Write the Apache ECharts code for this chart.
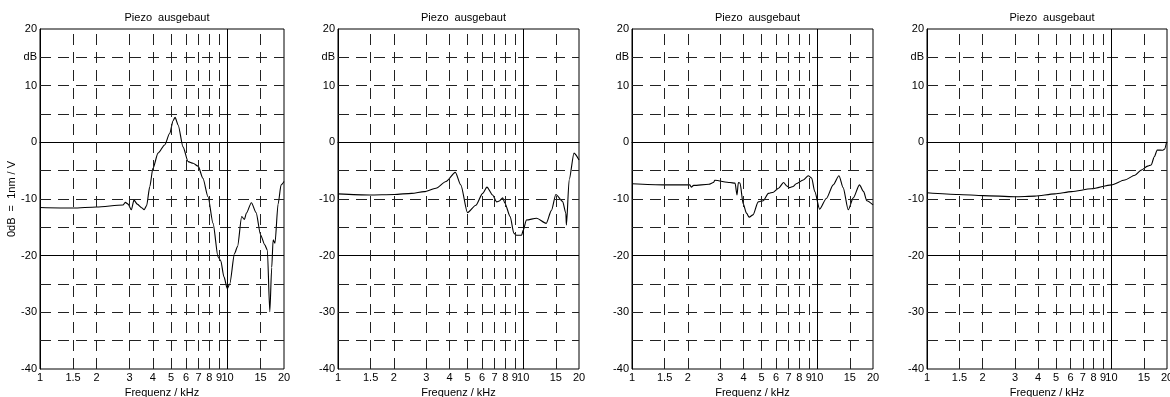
<!DOCTYPE html>
<html>
<head>
<meta charset="utf-8">
<script src="https://cdn.jsdelivr.net/npm/echarts@6/dist/echarts.min.js"></script>
<style>
html,body{margin:0;padding:0;background:#fff;}
#chart{width:1170px;height:397px;}
</style>
</head>
<body>
<div id="chart"></div>
<script>
// ---- data (frequency in kHz, level in dB) ----
const panelTitle = 'Piezo  ausgebaut';
const xAxisTitle = 'Frequenz / kHz';
const yAxisTitle = '0dB  =  1nm / V';
const xTickValues = [1, 1.5, 2, 3, 4, 5, 6, 7, 8, 9, 10, 15, 20];
const yTickValues = [-40, -30, -20, -10, 0, 10, 15, 20];
const yDashedGrid = [15, 10, 5, -5, -10, -15, -25, -30, -35];
const ySolidGrid = [0, -20];
const xDashedGrid = [1.5, 2, 3, 4, 5, 6, 7, 8, 9, 15];
const xSolidGrid = [10];

const freq1 = [1, 1.5, 2.0, 2.77, 2.85, 2.95, 3.07, 3.17, 3.3, 3.5, 3.59, 3.7, 3.85, 4.0, 4.26, 4.62, 4.92, 5.12, 5.25, 5.45, 5.79, 6.16, 6.55, 6.97, 7.39, 7.87, 8.37, 8.9, 9.2, 9.56, 9.97, 10.27, 10.9, 11.3, 11.9, 12.3, 12.6, 13.4, 14.2, 15.0, 15.8, 16.3, 16.8, 17.2, 17.5, 17.9, 18.6, 19.3, 20];
const level1 = [-11.5, -11.6, -11.4, -11.06, -10.6, -10.9, -11.9, -10.2, -10.9, -11.6, -11.9, -11.2, -7.8, -4.6, -1.9, -0.47, 1.6, 3.8, 4.4, 3.06, -0.8, -3.4, -3.7, -4.2, -6.35, -9.6, -14.3, -20.2, -20.9, -23.7, -25.8, -25.0, -19.6, -18.4, -13.1, -13.6, -12.5, -10.65, -12.4, -16.35, -18.1, -19.0, -29.9, -22.1, -17.2, -17.8, -10.9, -7.5, -6.9];

const freq2 = [1, 1.48, 2.01, 2.5, 2.92, 3.38, 3.83, 4.3, 4.6, 5.0, 5.55, 6.04, 6.37, 6.83, 7.19, 7.43, 7.75, 7.95, 8.5, 8.9, 9.2, 9.8, 10.0, 10.4, 11.8, 13.3, 14.2, 15.0, 16.3, 16.98, 17.1, 17.7, 18.8, 20];
const level2 = [-9.1, -9.3, -9.2, -9.0, -8.7, -8.1, -6.9, -5.3, -7.5, -12.4, -11.1, -9.0, -7.9, -9.3, -10.5, -10.35, -9.8, -10.7, -13.1, -16.05, -16.4, -16.4, -15.5, -13.7, -13.4, -14.3, -12.0, -9.2, -10.4, -12.5, -14.6, -6.6, -1.9, -3.1];

const freq3 = [1, 1.48, 2.05, 2.09, 2.15, 2.6, 2.75, 2.8, 3.38, 3.6, 3.69, 3.75, 3.83, 3.98, 4.15, 4.29, 4.5, 4.8, 5.11, 5.45, 5.8, 6.18, 6.58, 6.85, 7.09, 7.4, 7.7, 8.4, 8.95, 9.33, 9.7, 10.3, 11.2, 12.2, 13.1, 13.8, 14.7, 15.65, 16.9, 17.8, 18.5, 20];
const level3 = [-7.3, -7.5, -7.5, -7.9, -7.6, -7.4, -7.1, -6.7, -7.1, -7.2, -9.3, -7.1, -7.2, -10.8, -12.5, -13.2, -12.8, -10.5, -10.3, -9.0, -8.8, -8.1, -7.1, -7.7, -8.0, -7.8, -7.3, -6.65, -5.9, -6.3, -8.7, -11.8, -9.9, -7.5, -5.9, -8.0, -11.9, -9.8, -7.5, -8.7, -10.3, -11.05];

const freq4 = [1, 1.48, 2.02, 3.0, 3.84, 4.93, 6.07, 7.8, 10.0, 11.8, 13.4, 14.5, 15.7, 16.4, 17.1, 17.7, 19.0, 19.4, 19.9];
const level4 = [-8.9, -9.2, -9.4, -9.6, -9.5, -9.1, -8.7, -8.2, -7.5, -6.65, -5.8, -4.9, -4.2, -4.0, -2.5, -1.35, -1.4, -1.2, 0.1];

const panels = [
  {f: freq1, v: level1},
  {f: freq2, v: level2},
  {f: freq3, v: level3},
  {f: freq4, v: level4}
];

// ---- layout ----
const gridBoxes = [
  {left: 40, width: 244},
  {left: 338, width: 241},
  {left: 632, width: 241},
  {left: 927, width: 240}
];
const gridTop = 29, gridHeight = 340;
const FONT = 'Liberation Sans, Arial, Helvetica, sans-serif';

const chart = echarts.init(document.getElementById('chart'));

const grids = [], xAxes = [], yAxes = [], series = [], titles = [];
const dashStyle = {color: '#222', width: 1, type: [11, 7]};
const solidStyle = {color: '#000', width: 1, type: 'solid'};

panels.forEach((p, i) => {
  const g = gridBoxes[i];
  grids.push({left: g.left, width: g.width, top: gridTop, height: gridHeight,
    outerBoundsMode: 'none', containLabel: false,
    show: true, borderColor: '#000', borderWidth: 1, backgroundColor: '#fff'});
  titles.push({text: panelTitle, left: g.left + g.width / 2, top: 7, textAlign: 'center',
    textStyle: {fontFamily: FONT, fontSize: 11, fontWeight: 'normal', color: '#000'}});
  xAxes.push({type: 'log', logBase: 10, min: 1, max: 20, gridIndex: i,
    name: xAxisTitle, nameLocation: 'middle', nameGap: 13,
    nameTextStyle: {fontFamily: FONT, fontSize: 11, color: '#000'},
    axisLine: {show: true, lineStyle: {color: '#000'}},
    axisTick: {show: false},
    splitLine: {show: false}, minorSplitLine: {show: false},
    axisLabel: {customValues: xTickValues, fontFamily: FONT, fontSize: 11, color: '#000', margin: 3,
      hideOverlap: false, showMinLabel: true, showMaxLabel: true,
      formatter: v => String(Math.round(v * 10) / 10)}});
  yAxes.push({type: 'value', min: -40, max: 20, interval: 10, gridIndex: i,
    name: i === 0 ? yAxisTitle : '', nameLocation: 'middle', nameGap: 22,
    nameTextStyle: {fontFamily: FONT, fontSize: 11, color: '#000'},
    axisLine: {show: true, lineStyle: {color: '#000'}},
    axisTick: {show: false},
    splitLine: {show: false},
    axisLabel: {customValues: yTickValues, fontFamily: FONT, fontSize: 11, color: '#000', margin: 3,
      formatter: v => (v === 15 ? 'dB' : String(v))}});
  const mlData = [];
  yDashedGrid.forEach(y => mlData.push({yAxis: y, lineStyle: dashStyle}));
  ySolidGrid.forEach(y => mlData.push({yAxis: y, lineStyle: solidStyle}));
  xDashedGrid.forEach(x => mlData.push({xAxis: x, lineStyle: dashStyle}));
  xSolidGrid.forEach(x => mlData.push({xAxis: x, lineStyle: solidStyle}));
  series.push({type: 'line', xAxisIndex: i, yAxisIndex: i,
    data: p.f.map((f, k) => [f, p.v[k]]),
    showSymbol: false, symbol: 'none', smooth: 0.25, smoothMonotone: 'x', animation: false,
    lineStyle: {color: '#000', width: 1.1}, itemStyle: {color: '#000'},
    markLine: {silent: true, symbol: 'none', animation: false, label: {show: false},
      emphasis: {disabled: true}, data: mlData}});
});

chart.setOption({
  animation: false,
  backgroundColor: '#fff',
  title: titles,
  grid: grids,
  xAxis: xAxes,
  yAxis: yAxes,
  series: series
});
</script>
</body>
</html>
